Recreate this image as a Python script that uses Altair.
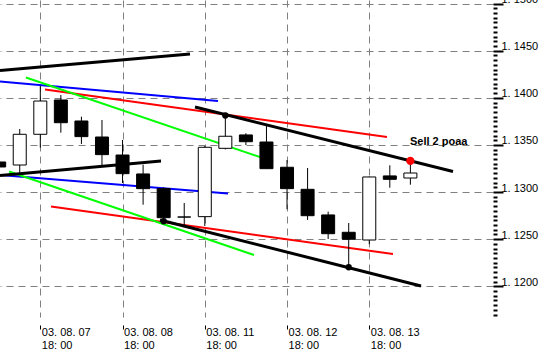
import json
import altair as alt
import pandas as pd

# ---------------- data ----------------
candle_idx = list(range(-2, 19))
opens  = [1.13319, 1.13287, 1.13613, 1.13977, 1.13754, 1.13584, 1.13393, 1.13192, 1.13036, 1.12735, 1.12739,
          1.13464, 1.13606, 1.13531, 1.13263, 1.13029, 1.12757, 1.12573, 1.12491, 1.13171, 1.13149]
highs  = [1.13340, 1.13669, 1.14126, 1.14030, 1.13800, 1.13765, 1.13553, 1.13290, 1.13051, 1.12884, 1.13489,
          1.13818, 1.13624, 1.13701, 1.13340, 1.13255, 1.12792, 1.12672, 1.13165, 1.13284, 1.13326]
lows   = [1.13245, 1.13202, 1.13471, 1.13630, 1.13510, 1.13287, 1.13096, 1.12866, 1.12669, 1.12640, 1.12640,
          1.13452, 1.13499, 1.13245, 1.12817, 1.12704, 1.12502, 1.12191, 1.12446, 1.13046, 1.13078]
closes = [1.13266, 1.13613, 1.13966, 1.13736, 1.13588, 1.13397, 1.13195, 1.13036, 1.12728, 1.12735, 1.13475,
          1.13592, 1.13534, 1.13248, 1.13036, 1.12749, 1.12558, 1.12499, 1.13160, 1.13135, 1.13202]

# trend lines (bar index, price) start -> end
line_kind    = ["black", "black", "black", "black", "blue", "blue", "red", "red", "green", "green"]
line_k_start = [-1.960, -1.960, 5.822, 7.524, -1.960, -1.960, 0.229, 0.520, -0.696, -1.522]
line_p_start = [1.14290, 1.13176, 1.12704, 1.13903, 1.14173, 1.13181, 1.14088, 1.12847, 1.14216, 1.13218]
line_k_end   = [7.281, 5.871, 18.516, 20.073, 8.643, 9.129, 16.863, 17.154, 11.318, 10.394]
line_p_end   = [1.14465, 1.13330, 1.12003, 1.13218, 1.13966, 1.12985, 1.13584, 1.12343, 1.13324, 1.12332]

anchor_k = [6, 9, 15]
anchor_p = [1.12690, 1.13812, 1.12202]

signal_k = [18]
signal_p = [1.13330]
signal_text = ["Sell 2 poaa"]
signal_text_k = [17.98]
signal_text_p = [1.13494]

day_positions = [0, 4, 8, 12, 16]
day_labels = ["03. 08. 07", "03. 08. 08", "03. 08. 11", "03. 08. 12", "03. 08. 13"]
time_labels = ["18: 00", "18: 00", "18: 00", "18: 00", "18: 00"]

price_major = [1.1200, 1.1250, 1.1300, 1.1350, 1.1400, 1.1450, 1.1500]
price_ticks = [round(1.1170 + 0.0005 * i, 4) for i in range(67)]

# ---------------- frames ----------------
candles = pd.DataFrame({"k": candle_idx, "open": opens, "high": highs, "low": lows, "close": closes})
lines = pd.DataFrame({"kind": line_kind, "k1": line_k_start, "p1": line_p_start,
                      "k2": line_k_end, "p2": line_p_end})
anchors = pd.DataFrame({"k": anchor_k, "p": anchor_p})
signal = pd.DataFrame({"k": signal_k, "p": signal_p})
sig_text = pd.DataFrame({"k": signal_text_k, "p": signal_text_p, "t": signal_text})

FONT = "Liberation Sans"
GRID = "#808080"
DASH = [7, 5]

xscale = alt.Scale(domain=[-1.960, 22.018], nice=False, zero=False, padding=0)
yscale = alt.Scale(domain=[1.11674, 1.15038], nice=False, zero=False, padding=0)

major_test = "abs(datum.value*200 - round(datum.value*200)) < 0.001"
x_label_expr = "[" + ",".join(f"['{d}','{t}']" for d, t in zip(day_labels, time_labels)) + \
               "][indexof(" + json.dumps(day_positions) + ", datum.value)]"

x_axis = alt.Axis(values=day_positions, tickCount=50, grid=True, gridColor=GRID, gridDash=DASH, gridWidth=1,
                  domain=False, tickSize=4, tickColor="black", tickWidth=1, offset=8,
                  labelExpr=x_label_expr, labelAlign="left", labelBaseline="top",
                  labelPadding=-3, labelOffset=1, labelLineHeight=13,
                  labelFont=FONT, labelFontSize=11, labelColor="black",
                  labelOverlap=False, title=None)

y_axis = alt.Axis(orient="right", values=price_ticks, tickCount=500, domain=False,
                  grid=True, gridColor=GRID, gridDash=DASH, gridWidth=1,
                  gridOpacity={"condition": {"test": major_test, "value": 1}, "value": 0},
                  tickSize={"condition": {"test": major_test, "value": 10}, "value": 4},
                  tickColor="black", tickWidth=2,
                  labelExpr=f"({major_test}) ? replace(format(datum.value, '.4f'), '.', '. ') : ''",
                  labelFont=FONT, labelFontSize=11, labelColor="black",
                  labelBaseline="alphabetic", labelAlign="left", labelOffset=-1, labelPadding=-2,
                  labelOverlap=False, labelFlush=False, title=None)

color_scale = alt.Scale(domain=["black", "blue", "red", "green"],
                        range=["#000000", "#0000ff", "#ff0000", "#00ff00"])

base_lines = alt.Chart(lines).encode(
    x=alt.X("k1:Q", scale=xscale, axis=x_axis),
    y=alt.Y("p1:Q", scale=yscale, axis=y_axis),
    x2="k2:Q", y2="p2:Q",
    color=alt.Color("kind:N", scale=color_scale, legend=None),
)
colored_lines = base_lines.mark_rule(strokeWidth=2, clip=True).transform_filter("datum.kind != 'black'")
black_lines = base_lines.mark_rule(strokeWidth=3, clip=True).transform_filter("datum.kind == 'black'")

wicks = alt.Chart(candles).mark_rule(color="black", strokeWidth=1, clip=True).encode(
    x=alt.X("k:Q", scale=xscale),
    y=alt.Y("low:Q", scale=yscale),
    y2="high:Q",
)
bodies = alt.Chart(candles).mark_bar(size=13, stroke="black", strokeWidth=1, clip=True).encode(
    x=alt.X("k:Q", scale=xscale),
    y=alt.Y("open:Q", scale=yscale),
    y2="close:Q",
    fill=alt.condition("datum.open < datum.close", alt.value("white"), alt.value("black")),
)
anchor_pts = alt.Chart(anchors).mark_point(filled=True, color="black", size=40, opacity=1).encode(
    x=alt.X("k:Q", scale=xscale),
    y=alt.Y("p:Q", scale=yscale),
)
signal_pts = alt.Chart(signal).mark_point(filled=True, color="#ff0000", size=68, opacity=1).encode(
    x=alt.X("k:Q", scale=xscale),
    y=alt.Y("p:Q", scale=yscale),
)
signal_lbl = alt.Chart(sig_text).mark_text(font=FONT, fontSize=11, fontWeight="bold", align="left",
                                           baseline="alphabetic", color="black").encode(
    x=alt.X("k:Q", scale=xscale),
    y=alt.Y("p:Q", scale=yscale),
    text="t:N",
)

chart = alt.layer(colored_lines, black_lines, wicks, bodies, anchor_pts, signal_pts, signal_lbl).properties(
    width=493, height=317,
    autosize=alt.AutoSizeParams(type="none"),
    padding={"left": 0, "top": 0, "right": 50, "bottom": 35},
    background="white",
).configure_view(stroke=None)

chart.save("out.html", embed_options={"renderer": "svg", "actions": False})
